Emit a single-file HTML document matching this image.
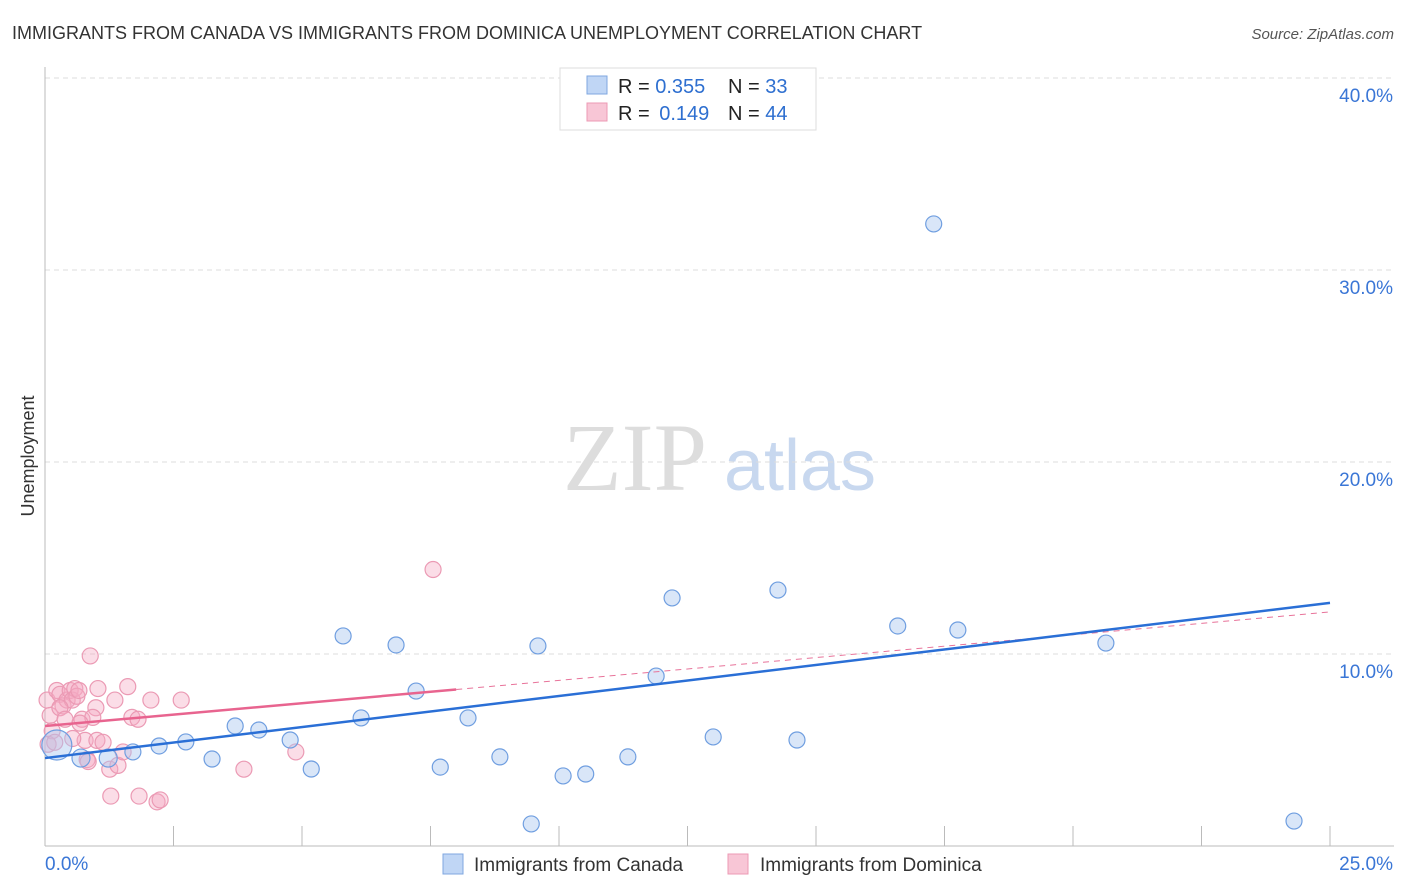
<!DOCTYPE html>
<html><head><meta charset="utf-8"><style>
body{margin:0;background:#fff;font-family:"Liberation Sans",sans-serif;}
svg{display:block}
</style></head><body>
<svg id="chart" width="1406" height="892">
<text x="12" y="39" font-size="18" fill="#333">IMMIGRANTS FROM CANADA VS IMMIGRANTS FROM DOMINICA UNEMPLOYMENT CORRELATION CHART</text>
<text x="1394" y="39" font-size="15" fill="#555" font-style="italic" text-anchor="end">Source: ZipAtlas.com</text>
<text x="0" y="0" transform="translate(34,456) rotate(-90)" font-size="18" fill="#333" text-anchor="middle">Unemployment</text>
<g><text x="635" y="490" font-size="96" font-family="Liberation Serif,serif" fill="#ddd" text-anchor="middle">ZIP</text><text x="800" y="490" font-size="72" fill="#c8d8ef" text-anchor="middle">atlas</text></g>
<g id="grid"></g><g id="marks"></g>
<g>
<rect x="560" y="68" width="256" height="62" fill="#fff" stroke="#ddd"/>
<rect x="587" y="76" width="20" height="18" fill="#c0d6f5" stroke="#7fa7e0"/>
<rect x="587" y="103" width="20" height="18" fill="#f8c6d6" stroke="#ec9ab4"/>
<text x="618" y="93" font-size="20" fill="#222">R = <tspan fill="#2e6fd0">0.355</tspan><tspan x="728">N = </tspan><tspan fill="#2e6fd0">33</tspan></text>
<text x="618" y="120" font-size="20" fill="#222">R = <tspan fill="#2e6fd0" dx="4">0.149</tspan><tspan x="728">N = </tspan><tspan fill="#2e6fd0">44</tspan></text>
</g>
<g>
<rect x="443" y="854" width="20" height="20" fill="#c0d6f5" stroke="#7fa7e0"/>
<text x="474" y="871" font-size="19" fill="#333">Immigrants from Canada</text>
<rect x="728" y="854" width="20" height="20" fill="#f8c6d6" stroke="#ec9ab4"/>
<text x="760" y="871" font-size="19" fill="#333">Immigrants from Dominica</text>
</g>
</svg>
<script>
const yTicks=[10,20,30,40];
const yTickLabels=["10.0%","20.0%","30.0%","40.0%"];
const xEndLabels=["0.0%","25.0%"];
const canadaX=[0.23,0.7,1.23,1.71,2.22,2.74,3.25,3.7,4.16,4.77,5.18,5.8,6.15,6.83,7.22,7.69,8.23,8.85,9.46,9.59,10.08,10.52,11.34,11.89,12.2,13.0,14.26,14.63,16.59,17.29,17.76,20.64,24.3];
const canadaY=[5.26,4.58,4.58,4.9,5.21,5.42,4.53,6.25,6.04,5.52,4.01,10.94,6.67,10.47,8.07,4.11,6.67,4.64,1.15,10.42,3.65,3.75,4.64,8.85,12.92,5.68,13.33,5.52,11.46,32.4,11.25,10.57,1.3];
const canadaR=[15,9,9,8,8,8,8,8,8,8,8,8,8,8,8,8,8,8,8,8,8,8,8,8,8,8,8,8,8,8,8,8,8];
const domX=[0.88,0.04,0.1,0.14,0.06,0.19,0.23,0.29,0.35,0.43,0.49,0.53,0.58,0.62,0.66,0.72,0.78,0.82,0.84,0.99,1.01,1.03,0.93,1.13,1.26,1.28,1.36,1.42,1.52,1.61,1.69,1.81,1.83,2.06,2.18,2.24,2.65,3.87,4.88,7.55,0.29,0.39,0.54,0.68];
const domY=[9.9,7.6,6.8,6.0,5.3,5.4,8.1,7.9,7.3,7.6,8.1,7.6,8.2,7.8,8.1,6.6,5.5,4.5,4.4,7.2,5.5,8.2,6.7,5.4,4.0,2.6,7.6,4.2,4.9,8.3,6.7,6.6,2.6,7.6,2.3,2.4,7.6,4.0,4.9,14.4,7.2,6.6,5.6,6.4];
const canadaLine=[4.58,12.66];
const domLine=[6.25,12.19];
const domSolidEnd=8.0;
const NS="http://www.w3.org/2000/svg";
const X0=45,X1=1330,YB=846,PXPER=19.2;
const sx=v=>X0+(v/25)*(X1-X0), sy=v=>YB-v*PXPER;
function mk(tag,at,parent){const e=document.createElementNS(NS,tag);for(const k in at)e.setAttribute(k,at[k]);parent.appendChild(e);return e;}
const grid=document.getElementById('grid'),marks=document.getElementById('marks');
yTicks.forEach((t,i)=>{
 const l=mk('line',{x1:X0,x2:1394,y1:sy(t),y2:sy(t),stroke:'#ddd','stroke-dasharray':'5,4'},grid);
 
 
 const tx=mk('text',{x:1393,y:sy(t)+24,'font-size':19,fill:'#3a76d6','text-anchor':'end'},grid);
 tx.textContent=yTickLabels[i];
 
 
});
const ax=mk('line',{x1:X0,x2:X0,y1:67,y2:YB,stroke:'#bbb'},grid);


const bx=mk('line',{x1:X0,x2:1394,y1:YB,y2:YB,stroke:'#bbb'},grid);


for(let i=1;i<=10;i++){const v=i*2.5;const tk=mk('line',{x1:sx(v),x2:sx(v),y1:826,y2:YB,stroke:'#bbb'},grid);
 
 }
[[0,'start',45],[25,'end',1393]].forEach((a,i)=>{const t=mk('text',{x:a[2],y:870,'font-size':19,fill:'#3a76d6','text-anchor':a[1]},grid);t.textContent=xEndLabels[i];
 
 });
domX.forEach((x,i)=>{const c=mk('circle',{cx:sx(x),cy:sy(domY[i]),r:8,fill:'rgba(245,170,195,0.4)',stroke:'#eb9ab4','stroke-width':1.2},marks);
 
 });
canadaX.forEach((x,i)=>{const c=mk('circle',{cx:sx(x),cy:sy(canadaY[i]),r:canadaR[i],fill:'rgba(170,200,240,0.45)',stroke:'#6f9ee0','stroke-width':1.2},marks);
 
 });
const dAt=x=>domLine[0]+(domLine[1]-domLine[0])*x/25;
const pd=mk('line',{x1:sx(domSolidEnd),y1:sy(dAt(domSolidEnd)),x2:sx(25),y2:sy(domLine[1]),stroke:'#e8739a','stroke-width':1,'stroke-dasharray':'6,5'},marks);


const ps=mk('line',{x1:sx(0),y1:sy(domLine[0]),x2:sx(domSolidEnd),y2:sy(dAt(domSolidEnd)),stroke:'#e8648f','stroke-width':2.5},marks);


const bl=mk('line',{x1:sx(0),y1:sy(canadaLine[0]),x2:sx(25),y2:sy(canadaLine[1]),stroke:'#2a6fd6','stroke-width':2.5},marks);


</script>
</body></html>
